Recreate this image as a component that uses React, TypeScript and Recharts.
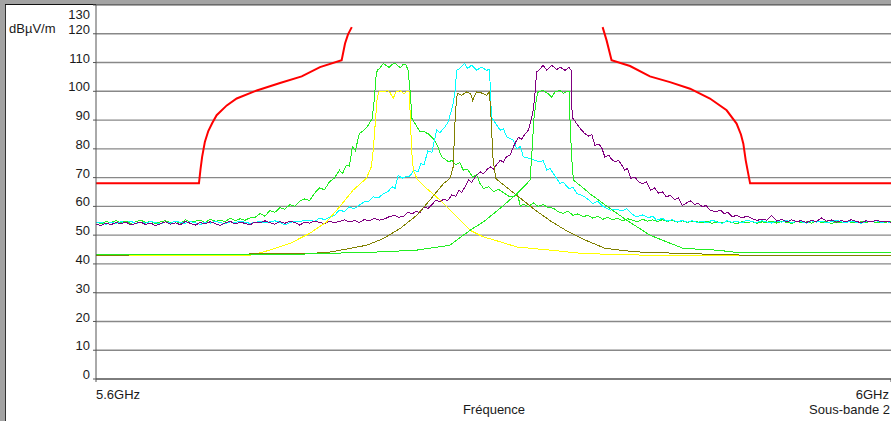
import { LineChart, Line, XAxis, YAxis, CartesianGrid } from "recharts";

// sweep step of the noisy floors, MHz
const STEP = 2.5;

const yTicks = [0, 10, 20, 30, 40, 50, 60, 70, 80, 90, 100, 110, 120, 130];
const xTicks = [5600, 6000];
const xTickLabels: Record<number, string> = { 5600: "5.6GHz", 6000: "6GHz" };

// limit mask (MHz, dBµV/m), null = break
const redMask: [number, number | null][] = [
  [5600, 68], [5651.8, 68], [5652.6, 73], [5653.4, 77.2], [5654.8, 82.5], [5656.5, 86.2],
  [5658.5, 89], [5660.7, 91.7], [5665.8, 95.1], [5670.8, 97.5], [5680.9, 100.3],
  [5692.6, 102.9], [5703.5, 105.2], [5712.7, 108.4], [5723.6, 110.8], [5725.3, 116.6],
  [5726.8, 119.8], [5728.7, 122.3], [5790, null], [5854.9, 122.3], [5856.9, 117.7],
  [5859.4, 110.8], [5868.7, 108.8], [5878.7, 105.2], [5888.8, 103.2], [5898.9, 100.9],
  [5908.9, 97.5], [5917.3, 93.4], [5922.3, 88.8], [5924.5, 85], [5925.7, 81.8],
  [5926.9, 76], [5929.1, 68], [6000, 68],
];

// green, left channel (noisy)
const greenAFloorLeft = [
  54.6, 53.9, 54.8, 54.3, 55.1, 54.2, 54.9, 54.0, 54.7, 55.2, 54.4, 54.8, 53.9, 54.7, 55.0, 54.3,
  54.9, 54.1, 55.3, 54.6, 54.9, 55.1, 54.4, 55.6, 54.8, 55.2, 54.7, 55.9, 55.0, 55.7, 55.2, 56.0,
];
const greenAMid: [number, number][] = [
  [5680, 56.2], [5682.5, 57.5], [5685, 56.6], [5687.5, 58.6], [5690, 57.9], [5692.5, 59.6],
  [5695, 59.0], [5697.5, 60.6], [5700, 60.1], [5702.5, 61.8], [5705, 62.6], [5707.5, 62.0],
  [5710, 64.6], [5712.5, 66.4], [5715, 65.8], [5717.5, 68.6], [5720, 69.9], [5722.5, 72.6],
  [5724, 71.4], [5726, 74.3], [5727.5, 74.0], [5729, 80.7], [5730.5, 79.4], [5732.5, 85.3],
  [5735, 86.6], [5737, 88.2], [5739, 90.6], [5740, 97], [5740.8, 104.5], [5741.5, 107.3],
  [5743, 108.2], [5744.5, 109.7], [5746, 109.0], [5747.5, 108.3], [5749, 109.4], [5750.5, 109.7],
  [5752, 108.7], [5753.2, 108.3], [5754.5, 109.3], [5756, 109.2], [5757, 107.3], [5758, 100.5],
  [5759, 90.5], [5761, 88.2], [5763, 85.9], [5765, 86.0], [5767.2, 85.2], [5769.5, 83.6],
  [5771.4, 81.8], [5773.9, 77.2], [5776, 76.2], [5777.5, 75.5], [5779, 76.0], [5781, 74.4],
  [5783, 75.2], [5784.8, 72.6], [5787, 72.9], [5789.5, 70.2], [5791.5, 71.0], [5793.2, 68.0],
  [5795, 66.2], [5797.5, 66.8], [5800, 65.1], [5802.5, 65.9], [5805, 64.8], [5807.5, 63.6],
  [5810, 63.3], [5812, 64.6], [5813.5, 60.0], [5815, 60.8], [5817.5, 59.9], [5820, 61.2],
  [5822.5, 60.0], [5825, 60.6], [5827.5, 59.6], [5830, 59.4], [5832.5, 58.2], [5835, 57.6],
  [5837.5, 58.3], [5840, 56.9], [5842.5, 57.4], [5845, 56.4], [5847.5, 56.9], [5850, 55.9],
  [5852.5, 56.6], [5855, 55.5], [5857.5, 56.2], [5860, 55.3], [5862.5, 55.9], [5865, 55.0],
  [5867.5, 55.7], [5870, 55.2], [5872.5, 54.6], [5875, 55.5], [5877.5, 54.9], [5880, 55.3],
  [5882.5, 54.7], [5885, 55.4], [5887.5, 54.8], [5890, 55.1], [5892.5, 54.5], [5895, 55.0],
  [5897.5, 54.4], [5900, 54.9], [5902.5, 54.6],
];
const greenAFloorRight = [
  54.3, 54.8, 54.1, 54.6, 54.2, 54.9, 54.4, 54.0, 54.7, 54.3, 54.8, 54.1, 54.6, 54.4, 54.9, 54.2,
  54.7, 54.5, 54.1, 54.8, 54.3, 54.6, 54.2, 54.9, 54.4, 54.7, 54.1, 54.6, 54.3, 54.8, 54.5, 54.2,
  54.7, 54.4, 54.9, 54.3, 54.6, 54.5, 54.8,
];

// cyan, middle channel (noisy)
const cyanFloorLeft = [
  54.2, 54.6, 53.8, 54.4, 54.1, 54.7, 54.3, 54.9, 54.0, 54.5, 54.2, 54.8, 54.3, 54.0, 54.6, 54.2,
  54.9, 54.4, 54.1, 54.7, 54.3, 53.7, 54.5, 54.2, 54.8, 54.4, 54.0, 54.6, 54.3, 54.9, 54.5, 54.1,
  54.4, 54.8, 54.2, 54.6, 55.0, 54.4, 53.6, 54.3, 54.9, 54.7, 55.1,
];
const cyanMid: [number, number][] = [
  [5707.5, 55.2], [5710, 54.8], [5712.5, 55.9], [5715, 55.4], [5717.5, 56.3], [5720, 56.9],
  [5722.5, 58.7], [5725, 58.2], [5727.5, 59.8], [5730, 59.2], [5732.5, 60.4], [5735, 61.6],
  [5737.5, 61.9], [5739.5, 63.3], [5742, 62.9], [5744.5, 64.4], [5747, 65.2], [5749, 66.8],
  [5750.5, 66.3], [5752, 70.8], [5754, 69.8], [5756, 70.3], [5758, 70.6], [5760, 72.6],
  [5762, 71.9], [5763.5, 74.9], [5765, 74.4], [5767, 79.3], [5769, 78.8], [5771.4, 86.5],
  [5773, 85.6], [5775.5, 87.6], [5777.2, 89.3], [5779.7, 95.7], [5780.8, 100.5], [5781.4, 107.3],
  [5783, 107.9], [5785.5, 109.7], [5787, 107.9], [5789, 109.1], [5791.5, 107.3], [5794, 108.4],
  [5796.5, 107.3], [5798, 107.6], [5799, 91], [5800, 90], [5803.3, 86.5], [5805, 86.9],
  [5806.7, 84.1], [5810, 83.0], [5811.7, 80.1], [5813.5, 80.8], [5815, 77.2], [5818.4, 76.6],
  [5820, 76.2], [5823.4, 75.5], [5825, 76.0], [5826.8, 72.6], [5828.4, 73.2], [5831.8, 69.7],
  [5833.5, 67.9], [5835, 68.5], [5838, 66.1], [5840, 66.6], [5842, 64.4], [5845, 63.7],
  [5847.5, 62.5], [5850, 61.0], [5852.5, 61.8], [5855, 60.1], [5858.6, 58.7], [5862, 59.0],
  [5865, 58.4], [5867, 59.3], [5870, 57.2], [5872, 56.4], [5875, 57.0], [5878, 56.0],
  [5880, 56.6], [5882, 55.2], [5885, 55.8], [5887.5, 54.9], [5890, 55.4], [5892.5, 54.6],
  [5895, 55.1], [5897.5, 54.5], [5900, 55.0], [5902.5, 54.4],
];
const cyanFloorRight = [
  54.8, 54.3, 55.2, 54.6, 54.1, 55.0, 54.5, 54.9, 54.2, 55.3, 54.7, 54.4, 55.0, 54.6, 54.2, 54.9,
  54.5, 55.1, 54.3, 54.8, 54.6, 54.2, 55.0, 54.5, 54.9, 54.3, 54.7, 55.2, 54.6, 54.4, 54.9, 54.5,
  54.1, 54.8, 54.6, 55.0, 54.4, 54.7, 54.3,
];

// purple, right channel (noisy)
const purpleFloorLeft = [
  53.8, 53.4, 54.2, 53.6, 54.4, 53.9, 54.6, 53.5, 54.1, 54.5, 53.7, 54.2, 53.3, 54.0, 54.6, 53.8,
  54.3, 53.6, 54.8, 54.1, 53.5, 54.4, 53.9, 54.7, 54.0, 53.4, 54.3, 54.8, 53.9, 54.5, 54.1, 53.6,
  54.6, 54.2, 55.0, 54.3, 53.8, 54.7, 54.1, 54.9, 54.4, 53.5, 54.5, 54.2, 54.9, 54.4, 54.0, 54.8,
  54.3,
];
const purpleMid: [number, number][] = [
  [5722.5, 54.8], [5725, 55.3], [5727.5, 54.6], [5730, 55.1], [5732.5, 54.4], [5735, 55.4],
  [5737.5, 55.0], [5740, 55.8], [5742.5, 55.2], [5745, 55.6], [5747.5, 56.4], [5750, 56.9],
  [5752.5, 56.2], [5755, 56.6], [5757, 58.1], [5759, 57.3], [5761, 58.4], [5763, 57.8],
  [5765, 59.8], [5767, 59.3], [5769, 60.6], [5771, 62.2], [5773, 61.6], [5775, 62.5],
  [5777, 62.0], [5779, 64.0], [5781, 63.5], [5782.5, 65.6], [5784, 64.9], [5786, 67.2],
  [5787.5, 69.1], [5789, 68.3], [5791, 70.5], [5793.4, 72.0], [5795, 71.3], [5797, 73.0],
  [5798.4, 73.7], [5800, 72.9], [5801.5, 74.4], [5803.4, 76.0], [5805, 75.4], [5806.5, 77.2],
  [5808.5, 78.0], [5810, 80.7], [5812.5, 84.1], [5814, 83.3], [5816, 85.2], [5817.5, 86.5],
  [5818.5, 88.8], [5820, 93.4], [5821, 100.3], [5821.7, 106.7], [5823, 107.5], [5825, 109.0],
  [5826.8, 107.3], [5829.3, 109.1], [5831.8, 107.5], [5833.5, 108.4], [5836, 107.3], [5838, 108.3],
  [5839, 107.3], [5839.6, 91], [5841, 89.6], [5843, 87.6], [5845.9, 85.3], [5848, 84.4],
  [5849.5, 84.9], [5851, 81.2], [5853, 81.7], [5854.5, 80.3], [5856, 77.2], [5858, 77.8],
  [5859.5, 76.3], [5861, 75.5], [5863, 76.0], [5864.5, 74.4], [5866, 72.6], [5867.5, 73.2],
  [5869, 69.7], [5871, 70.2], [5873, 68.6], [5875, 67.9], [5877, 68.5], [5879, 65.6],
  [5881, 66.4], [5883, 64.6], [5885, 65.1], [5887, 63.3], [5889, 63.9], [5891, 62.4],
  [5893, 62.9], [5895, 60.4], [5897, 61.1], [5899, 62.0], [5901, 60.7], [5903, 61.0],
  [5905, 59.9], [5907, 60.3], [5909, 58.6], [5912, 58.1], [5914, 58.8], [5916, 57.5],
  [5918, 57.9], [5920, 56.4], [5922.5, 56.9], [5925, 56.0], [5927.5, 56.6], [5930, 55.8],
  [5932.5, 55.1], [5935, 55.6],
];
const purpleFloorRight = [
  55.2, 56.8, 54.9, 55.5, 54.6, 55.3, 54.8, 55.0, 54.4, 55.2, 54.7, 56.0, 54.9, 55.3, 54.5, 55.1,
  54.6, 55.4, 54.8, 54.3, 55.0, 54.6, 55.2, 54.7, 54.9, 54.5,
];

// smooth traces
const yellowTrace: [number, number][] = [
  [5600, 42.8], [5677.5, 43], [5687.5, 44.8], [5697.5, 47.1], [5707.5, 50.6], [5716, 54.6],
  [5722.5, 59.8], [5729.3, 65.6], [5736, 69.7], [5738.5, 73.7], [5739.5, 79.5], [5740.5, 88.8],
  [5741.5, 98], [5742.5, 100], [5745, 99.8], [5746.5, 100.3], [5748, 99.5], [5749.5, 97.5],
  [5751, 99.8], [5753, 100.2], [5755, 99.2], [5756.5, 100.1], [5757.5, 99.8], [5758, 93.4],
  [5758.8, 79.5], [5759.7, 72.6], [5761.4, 69.7], [5766.4, 66.2], [5773.1, 62.2], [5778.1, 58.7],
  [5783.1, 55.2], [5788.2, 51.7], [5794.9, 49.4], [5803.3, 47.7], [5811.7, 45.9], [5828.4, 44.8],
  [5845.2, 43.6], [5862, 43.3], [5878.7, 43], [6000, 43],
];
const oliveTrace: [number, number][] = [
  [5600, 43], [5702.6, 43.6], [5716, 43.9], [5727.8, 45.4], [5736.2, 46.5], [5744.5, 48.8],
  [5753, 52.3], [5761.4, 56.9], [5768, 62.2], [5774.8, 67.9], [5778.1, 69.7], [5779.7, 73.7],
  [5780.6, 88.8], [5781.4, 98], [5782, 99.2], [5784, 98.6], [5786.5, 99.8], [5788.5, 99.2],
  [5789.5, 96.9], [5791.5, 99.8], [5794, 99.4], [5796.5, 98.6], [5797.9, 99.8], [5798.6, 93.4],
  [5799.7, 77.2], [5801.1, 69.7], [5804.3, 67.9], [5812.7, 63.3], [5821, 58.7], [5829.4, 54.6],
  [5837.8, 51.1], [5846.2, 48.3], [5856.2, 45.4], [5871.3, 44.2], [5896.5, 43.6], [5929, 43],
  [6000, 43],
];
const greenBTrace: [number, number][] = [
  [5600, 43.3], [5702.6, 43.4], [5744.5, 44.2], [5761.4, 44.8], [5778.1, 46.5], [5788.2, 51.7],
  [5794.9, 54.6], [5803.3, 59.3], [5811.7, 64.4], [5818.4, 69.1], [5819.2, 77.2], [5820.4, 91],
  [5821.7, 98], [5822.5, 99.8], [5825, 100.3], [5827.5, 99.2], [5829.3, 98], [5831, 99.8],
  [5833.5, 100.3], [5835.2, 99.2], [5836.9, 100], [5838, 99.8], [5838.5, 89.9], [5839.3, 77.2],
  [5840.2, 69.1], [5845, 66.5], [5848.5, 64.4], [5858.6, 59.3], [5867, 55.2], [5878.7, 50],
  [5895.4, 45.4], [5912.2, 44.8], [5923.9, 43.9], [6000, 43.8],
];

const pts = (rows: [number, number | null][]) => rows.map(([f, v]) => ({ f, v }));
const sweep = (start: number, vals: number[]) => vals.map((v, i) => ({ f: start + i * STEP, v }));

const greenA = [...sweep(5600, greenAFloorLeft), ...pts(greenAMid), ...sweep(5905, greenAFloorRight)];
const cyan = [...sweep(5600, cyanFloorLeft), ...pts(cyanMid), ...sweep(5905, cyanFloorRight)];
const purple = [...sweep(5600, purpleFloorLeft), ...pts(purpleMid), ...sweep(5937.5, purpleFloorRight)];

const FONT = '"Liberation Sans", Arial, sans-serif';

const YTick = (props: any) => {
  const { x, y, payload } = props;
  const off = payload.value === 130 ? 9 : -4.5;
  return (
    <text x={x - 1} y={y + off} dy="0.35em" textAnchor="end" fontSize={13} fontFamily={FONT} fill="#1a1a1a">
      {payload.value}
    </text>
  );
};

const XTick = (props: any) => {
  const { x, y, payload } = props;
  const first = payload.value === 5600;
  return (
    <text x={first ? x : x - 2} y={y + 10} dy="0.35em" textAnchor={first ? "start" : "end"} fontSize={13} fontFamily={FONT} fill="#1a1a1a">
      {xTickLabels[payload.value]}
    </text>
  );
};

const label = { position: "absolute" as const, fontFamily: FONT, fontSize: 13, lineHeight: "15px", color: "#1a1a1a", whiteSpace: "nowrap" as const };

const trace = { strokeWidth: 1, dot: false, type: "linear" as const, isAnimationActive: false, shapeRendering: "crispEdges" };

export default function App() {
  return (
    <div style={{ position: "absolute", left: 0, top: 0, width: 891, height: 421, background: "#fff", overflow: "hidden" }}>
      <div style={{ position: "absolute", left: 0, top: 0, width: 5, height: 421, background: "#a3a3a3" }} />
      <div style={{ position: "absolute", left: 5, top: 0, width: 1, height: 421, background: "#333" }} />
      <div style={{ position: "absolute", left: 0, top: 0, width: 891, height: 4, background: "#a3a3a3" }} />
      <div style={{ position: "absolute", left: 5, top: 3.5, width: 886, height: 1, background: "#111" }} />
      <div style={{ position: "absolute", left: 0, top: 0 }}>
        <LineChart width={891} height={421} margin={{ top: 5, right: 0, bottom: 12, left: 0 }}>
          <CartesianGrid horizontal vertical={false} stroke="#888" strokeWidth={1.4} />
          <XAxis
            dataKey="f"
            type="number"
            domain={[5600, 6000]}
            ticks={xTicks}
            allowDataOverflow
            height={30}
            axisLine={{ stroke: "#555" }}
            tickLine={{ stroke: "#555" }}
            tickSize={3}
            tick={<XTick />}
            interval={0}
          />
          <YAxis
            type="number"
            domain={[0, 130]}
            ticks={yTicks}
            width={96}
            allowDataOverflow
            axisLine={{ stroke: "#555" }}
            tickLine={{ stroke: "#555" }}
            tickSize={3}
            tick={<YTick />}
            interval={0}
          />
          <Line data={greenA} dataKey="v" name="greenA" stroke="#22ee22" {...trace} />
          <Line data={cyan} dataKey="v" name="cyan" stroke="#00ffff" {...trace} />
          <Line data={purple} dataKey="v" name="purple" stroke="#800080" {...trace} />
          <Line data={pts(yellowTrace)} dataKey="v" name="yellow" stroke="#ffff00" {...trace} />
          <Line data={pts(oliveTrace)} dataKey="v" name="olive" stroke="#808000" {...trace} />
          <Line data={pts(greenBTrace)} dataKey="v" name="greenB" stroke="#22ee22" {...trace} />
          <Line data={pts(redMask)} dataKey="v" name="mask" stroke="#ff0000" strokeWidth={2} dot={false} type="linear" isAnimationActive={false} />
        </LineChart>
      </div>
      <div style={{ ...label, left: 9, top: 21 }}>dBµV/m</div>
      <div style={{ ...label, left: 494, top: 402, transform: "translateX(-50%)" }}>Fréquence</div>
      <div style={{ ...label, right: 1, top: 402 }}>Sous-bande 2</div>
    </div>
  );
}
